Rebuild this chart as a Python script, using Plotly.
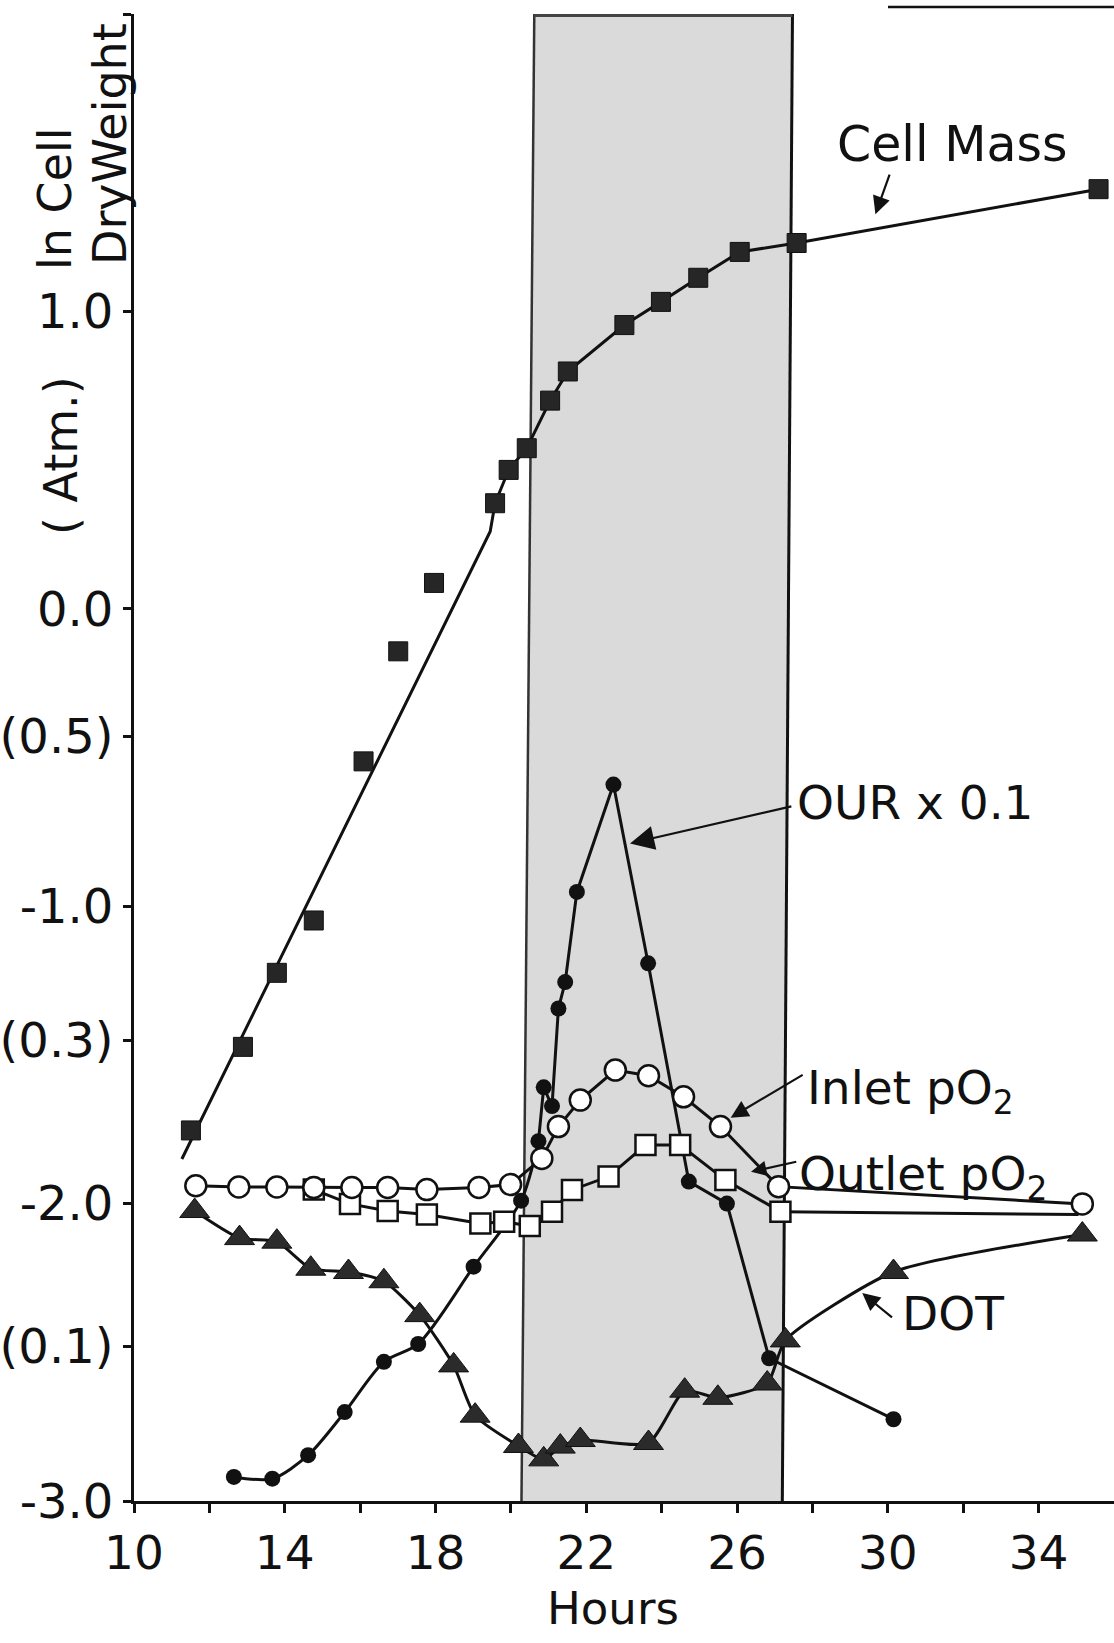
import plotly.graph_objects as go

# ---------------- data ----------------
# Cell mass: ln cell dry weight (filled squares)
cell_hours = [11.51, 12.89, 13.79, 14.77, 16.09, 17.01, 17.96, 19.58, 19.94, 20.42,
              21.04, 21.51, 23.01, 23.98, 24.97, 26.07, 27.58, 35.59]
cell_ln_dw = [-1.754, -1.473, -1.224, -1.048, -0.513, -0.143, 0.087, 0.355, 0.467, 0.540,
              0.700, 0.798, 0.954, 1.032, 1.113, 1.200, 1.230, 1.411]
# straight line fitted through the exponential phase
cell_fit_hours = [11.27, 19.45]
cell_fit_vals = [-1.85, 0.26]

# OUR x 0.1 (filled circles)
our_hours = [12.65, 13.67, 14.62, 15.59, 16.63, 17.54, 19.01, 20.27, 20.73, 20.87,
             21.09, 21.26, 21.44, 21.75, 22.72, 23.64, 24.72, 25.73, 26.85, 30.15]
our_vals = [-2.919, -2.925, -2.846, -2.701, -2.532, -2.472, -2.212, -1.990, -1.790, -1.609,
            -1.672, -1.344, -1.255, -0.952, -0.591, -1.192, -1.926, -2.000, -2.520, -2.725]

# Inlet pO2 (open circles)
inlet_hours = [11.64, 12.78, 13.79, 14.77, 15.78, 16.73, 17.77, 19.15, 19.99, 20.82,
               21.26, 21.84, 22.77, 23.65, 24.58, 25.56, 27.10, 35.16]
inlet_vals = [-1.940, -1.944, -1.944, -1.946, -1.946, -1.946, -1.953, -1.946, -1.936, -1.848,
              -1.741, -1.652, -1.551, -1.570, -1.641, -1.741, -1.943, -2.001]

# Outlet pO2 (open squares); last segment runs on without a marker
outlet_hours = [14.77, 15.73, 16.73, 17.77, 19.19, 19.82, 20.50, 21.09, 21.62, 22.59,
                23.57, 24.49, 25.69, 27.15]
outlet_vals = [-1.953, -2.001, -2.025, -2.037, -2.067, -2.061, -2.075, -2.027, -1.954, -1.909,
               -1.803, -1.803, -1.921, -2.027]
outlet_end_hours = [27.15, 35.06]
outlet_end_vals = [-2.027, -2.037]

# DOT (filled triangles)
dot_hours = [11.61, 12.80, 13.79, 14.69, 15.69, 16.63, 17.58, 18.48, 19.05, 20.20,
             20.87, 21.31, 21.84, 23.65, 24.61, 25.49, 26.80, 27.28, 30.15, 35.16]
dot_vals = [-2.025, -2.116, -2.128, -2.219, -2.230, -2.261, -2.375, -2.544, -2.713, -2.815,
            -2.860, -2.817, -2.795, -2.805, -2.629, -2.653, -2.605, -2.460, -2.230, -2.104]

# shaded interval (hours), slightly skewed as in the scan
shade_top = [20.62, 27.47]
shade_bottom = [20.28, 27.20]

# axis ticks
x_tickvals = [10, 12, 14, 16, 18, 20, 22, 24, 26, 28, 30, 32, 34]
x_ticktext = ["10", "", "14", "", "18", "", "22", "", "26", "", "30", "", "34"]
y_tickvals = [2.0, 1.0, 0.0, -0.43, -1.0, -1.45, -2.0, -2.48, -3.0]
y_ticktext = ["", "1.0", "0.0", "(0.5)", "-1.0", "(0.3)", "-2.0", "(0.1)", "-3.0"]

# ---------------- figure ----------------
W, H = 1114, 1643
ML, MR, MT, MB = 134, 0, 14, 142
FONT = "DejaVu Sans"
BLACK = "#111111"

fig = go.Figure()

# cell mass line: fit line then joined points
cell_line_x = cell_fit_hours + [h for h in cell_hours if h > 19.5]
cell_line_y = cell_fit_vals + [v for h, v in zip(cell_hours, cell_ln_dw) if h > 19.5]
fig.add_trace(go.Scatter(x=cell_line_x, y=cell_line_y, mode="lines",
                         line=dict(color=BLACK, width=3), hoverinfo="skip"))
fig.add_trace(go.Scatter(x=cell_hours, y=cell_ln_dw, mode="markers", name="Cell Mass",
                         marker=dict(symbol="square", size=19, color="#262626",
                                     line=dict(color=BLACK, width=1))))

# OUR: smooth early part, straight segments after
n_s = 9
fig.add_trace(go.Scatter(x=our_hours[:n_s], y=our_vals[:n_s], mode="lines",
                         line=dict(color=BLACK, width=3, shape="spline", smoothing=0.8),
                         hoverinfo="skip"))
fig.add_trace(go.Scatter(x=our_hours[n_s - 1:], y=our_vals[n_s - 1:], mode="lines",
                         line=dict(color=BLACK, width=3), hoverinfo="skip"))
fig.add_trace(go.Scatter(x=our_hours, y=our_vals, mode="markers", name="OUR x 0.1",
                         marker=dict(symbol="circle", size=16, color=BLACK)))

# DOT
fig.add_trace(go.Scatter(x=dot_hours, y=dot_vals, mode="lines+markers", name="DOT",
                         line=dict(color=BLACK, width=3, shape="spline", smoothing=0.6),
                         marker=dict(symbol="triangle-up", size=26, color="#2b2b2b",
                                     line=dict(color=BLACK, width=1))))

# Outlet pO2
fig.add_trace(go.Scatter(x=outlet_end_hours, y=outlet_end_vals, mode="lines",
                         line=dict(color=BLACK, width=3), hoverinfo="skip"))
fig.add_trace(go.Scatter(x=outlet_hours, y=outlet_vals, mode="lines+markers", name="Outlet pO2",
                         line=dict(color=BLACK, width=3),
                         marker=dict(symbol="square", size=20, color="white",
                                     line=dict(color=BLACK, width=2.5))))

# Inlet pO2
fig.add_trace(go.Scatter(x=inlet_hours, y=inlet_vals, mode="lines+markers", name="Inlet pO2",
                         line=dict(color=BLACK, width=3),
                         marker=dict(symbol="circle", size=21, color="white",
                                     line=dict(color=BLACK, width=2.5))))

# shaded region
fig.add_shape(type="path", xref="x", yref="y", layer="below",
              path=(f"M {shade_top[0]},2 L {shade_top[1]},2 "
                    f"L {shade_bottom[1]},-3 L {shade_bottom[0]},-3 Z"),
              fillcolor="#dadada", line=dict(width=0))
fig.add_shape(type="line", xref="x", yref="y", layer="below",
              x0=shade_top[0], y0=2, x1=shade_bottom[0], y1=-3,
              line=dict(color="#333333", width=2.5))
fig.add_shape(type="line", xref="x", yref="y", layer="below",
              x0=shade_top[1], y0=2, x1=shade_bottom[1], y1=-3,
              line=dict(color=BLACK, width=3))
fig.add_shape(type="line", xref="x", yref="y", layer="below",
              x0=shade_top[0], y0=1.995, x1=shade_top[1], y1=1.995,
              line=dict(color="#444444", width=3))

# partial underline at top right (cropped figure caption)
fig.add_shape(type="line", xref="paper", yref="paper",
              x0=(888 - ML) / (W - ML - MR), x1=1.0,
              y0=(H - MB - 7) / (H - MT - MB), y1=(H - MB - 7) / (H - MT - MB),
              line=dict(color=BLACK, width=2.5))


def px2paper(px, py):
    return (px - ML) / (W - ML - MR), (H - MB - py) / (H - MT - MB)


ann = []
# rotated y-axis texts
for txt, cx, cy in [("ln Cell", 55, 199), ("DryWeight", 110, 144), ("( Atm.)", 61, 456)]:
    xp, yp = px2paper(cx, cy)
    ann.append(dict(text=txt, x=xp, y=yp, xref="paper", yref="paper", showarrow=False,
                    textangle=-90, xanchor="center", yanchor="middle",
                    font=dict(family=FONT, size=46, color=BLACK)))
# x-axis title
xp, yp = px2paper(613, 1608)
ann.append(dict(text="Hours", x=xp, y=yp, xref="paper", yref="paper", showarrow=False,
                xanchor="center", yanchor="middle", font=dict(family=FONT, size=45, color=BLACK)))

# series labels
lab_font = dict(family=FONT, size=47, color=BLACK)
ann.append(dict(text="Cell Mass", x=31.72, y=1.56, showarrow=False,
                font=dict(family=FONT, size=49, color=BLACK)))
ann.append(dict(text="OUR x 0.1", x=30.73, y=-0.65, showarrow=False, font=lab_font))
ann.append(dict(text="Inlet pO<sub>2</sub>", x=27.80, y=-1.62, xanchor="left",
                showarrow=False, font=lab_font))
ann.append(dict(text="Outlet pO<sub>2</sub>", x=27.60, y=-1.91, xanchor="left",
                showarrow=False, font=lab_font))
ann.append(dict(text="DOT", x=31.72, y=-2.37, showarrow=False, font=lab_font))

# pointer arrows (tail -> head)
for (tx, ty), (hx, hy), hs in [((30.06, 1.465), (29.67, 1.327), 1.6),
                               ((27.48, -0.663), (23.16, -0.789), 2.2),
                               ((27.78, -1.564), (25.83, -1.711), 1.6),
                               ((27.61, -1.858), (26.37, -1.893), 1.4),
                               ((30.15, -2.387), (29.32, -2.301), 1.6)]:
    ann.append(dict(text="", x=hx, y=hy, ax=tx, ay=ty, axref="x", ayref="y",
                    showarrow=True, arrowhead=2, arrowsize=hs, arrowwidth=2.2,
                    arrowcolor=BLACK, standoff=0, startstandoff=0))

fig.update_layout(
    width=W, height=H,
    margin=dict(l=ML, r=MR, t=MT, b=MB, pad=0),
    paper_bgcolor="white", plot_bgcolor="white",
    showlegend=False,
    font=dict(family=FONT, size=46, color=BLACK),
    annotations=ann,
    xaxis=dict(range=[10, 36], tickvals=x_tickvals, ticktext=x_ticktext,
               showgrid=False, zeroline=False, showline=True, linecolor=BLACK, linewidth=3,
               ticks="outside", ticklen=9, tickwidth=3, tickcolor=BLACK,
               ticklabelstandoff=0, tickfont=dict(family=FONT, size=47, color=BLACK)),
    yaxis=dict(range=[-3, 2], tickvals=y_tickvals, ticktext=y_ticktext,
               showgrid=False, zeroline=False, showline=True, linecolor=BLACK, linewidth=3,
               ticks="outside", ticklen=8, tickwidth=3, tickcolor=BLACK,
               ticklabelstandoff=0, tickfont=dict(family=FONT, size=48, color=BLACK)),
)

fig.write_html("out.html")
